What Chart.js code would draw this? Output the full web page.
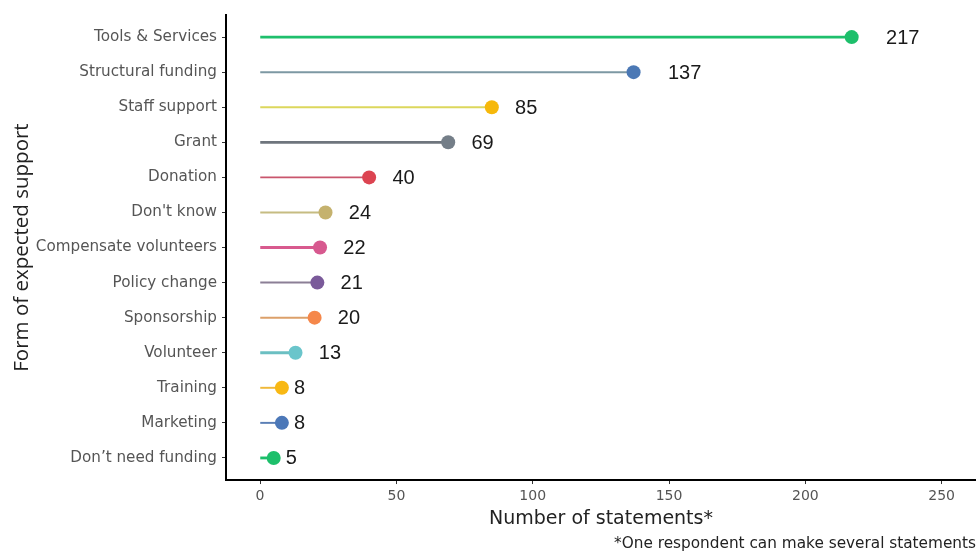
<!DOCTYPE html>
<html><head><meta charset="utf-8">
<script src="https://cdn.jsdelivr.net/npm/chart.js@4"></script>
<style>html,body{margin:0;padding:0;background:#fff}</style>
</head><body>
<canvas id="c" width="976" height="553"></canvas>
<script>
const categories = ["Tools & Services","Structural funding","Staff support","Grant","Donation","Don't know","Compensate volunteers","Policy change","Sponsorship","Volunteer","Training","Marketing","Don\u2019t need funding"];
const values = [217,137,85,69,40,24,22,21,20,13,8,8,5];
const xTicks = [0,50,100,150,200,250];
const xTitle = "Number of statements*";
const yTitle = "Form of expected support";
const footnote = "*One respondent can make several statements";

// styles
const lineColors = ["#1fbf6c","#7d98a3","#dcd75c","#6e757d","#c9566d","#c6bc82","#d85a8e","#8b7f96","#dca06a","#6bbfc2","#f0b93a","#5b7fb6","#1dbe6a"];
const dotColors  = ["#1dbf6b","#4b78b5","#f6b80b","#747e88","#dc4451","#c5b26e","#d7598f","#7a5a9a","#f5874a","#6ac5cb","#f8b814","#4c78b8","#1dbf6b"];
const thickLine  = [true,false,false,true,false,false,true,false,false,true,false,false,true];

const thickData = [], thinData = [], dotData = [];
values.forEach((v,i)=>{
  (thickLine[i] ? thickData : thinData).push({x:v,y:i});
  dotData.push({x:v,y:i});
});

const valueLabels = {
  id:'valueLabels',
  afterDatasetsDraw(chart){
    const {ctx, scales:{x,y}} = chart;
    ctx.save();
    ctx.font = '20px "Liberation Sans", Arial, sans-serif';
    ctx.fillStyle = '#1a1a1a';
    ctx.textAlign = 'left';
    ctx.textBaseline = 'middle';
    values.forEach((v,i)=>{
      const t = String(v);
      const w = ctx.measureText(t).width;
      const px = x.getPixelForValue(v);
      const py = y.getPixelForValue(i);
      ctx.fillText(t, px + w + 1, py + 1);
    });
    ctx.restore();
  }
};

const colorFor = (arr) => (c) => (c.raw ? arr[c.raw.y] : arr[0]);

new Chart(document.getElementById('c'), {
  type:'bar',
  data:{
    datasets:[
      {type:'scatter', data:dotData, order:0, pointRadius:7, pointHoverRadius:7, pointBorderWidth:0,
       pointBackgroundColor:colorFor(dotColors), backgroundColor:colorFor(dotColors), borderColor:'rgba(0,0,0,0)'},
      {data:thickData, order:1, barThickness:2.2, grouped:false, borderWidth:0, backgroundColor:colorFor(lineColors)},
      {data:thinData, order:2, barThickness:1.3, grouped:false, borderWidth:0, backgroundColor:colorFor(lineColors)}
    ]
  },
  options:{
    indexAxis:'y',
    responsive:false,
    animation:false,
    devicePixelRatio:1,
    layout:{autoPadding:false, padding:{top:15,left:0,right:0,bottom:0}},
    plugins:{
      legend:{display:false},
      tooltip:{enabled:false},
      subtitle:{display:true, text:footnote, position:'bottom', align:'end',
        color:'#222', font:{family:'"DejaVu Sans", sans-serif', size:15.3, weight:'normal'}, padding:{top:4,bottom:0}}
    },
    scales:{
      x:{
        type:'linear', min:-12.5, max:262.6, offset:false,
        afterBuildTicks(s){ s.ticks = xTicks.map(v=>({value:v})); },
        afterFit(s){ s.height = 50.6; },
        grid:{display:true, drawOnChartArea:false, drawTicks:true, tickLength:4, tickColor:'#333', offset:false},
        border:{display:true, color:'#000', width:2},
        ticks:{color:'#555', padding:4, font:{family:'"DejaVu Sans", sans-serif', size:14}},
        title:{display:true, text:xTitle, color:'#222', font:{family:'"DejaVu Sans", sans-serif', size:19}, padding:{top:0,bottom:0.2}}
      },
      y:{
        type:'linear', reverse:true, min:-0.63, max:12.63, offset:false,
        afterBuildTicks(s){ s.ticks = categories.map((c,i)=>({value:i})); },
        afterFit(s){ s.width = 226; },
        grid:{display:true, drawOnChartArea:false, drawTicks:true, tickLength:4, tickColor:'#333', offset:false},
        border:{display:true, color:'#000', width:2},
        ticks:{autoSkip:false, color:'#555', padding:5, font:{family:'"DejaVu Sans", sans-serif', size:15.2},
          callback:(v)=>categories[v]},
        title:{display:true, text:yTitle, color:'#222', font:{family:'"Open Sans", sans-serif', size:20.5}, padding:{top:10,bottom:0}}
      }
    }
  },
  plugins:[valueLabels]
});
</script>
</body></html>
